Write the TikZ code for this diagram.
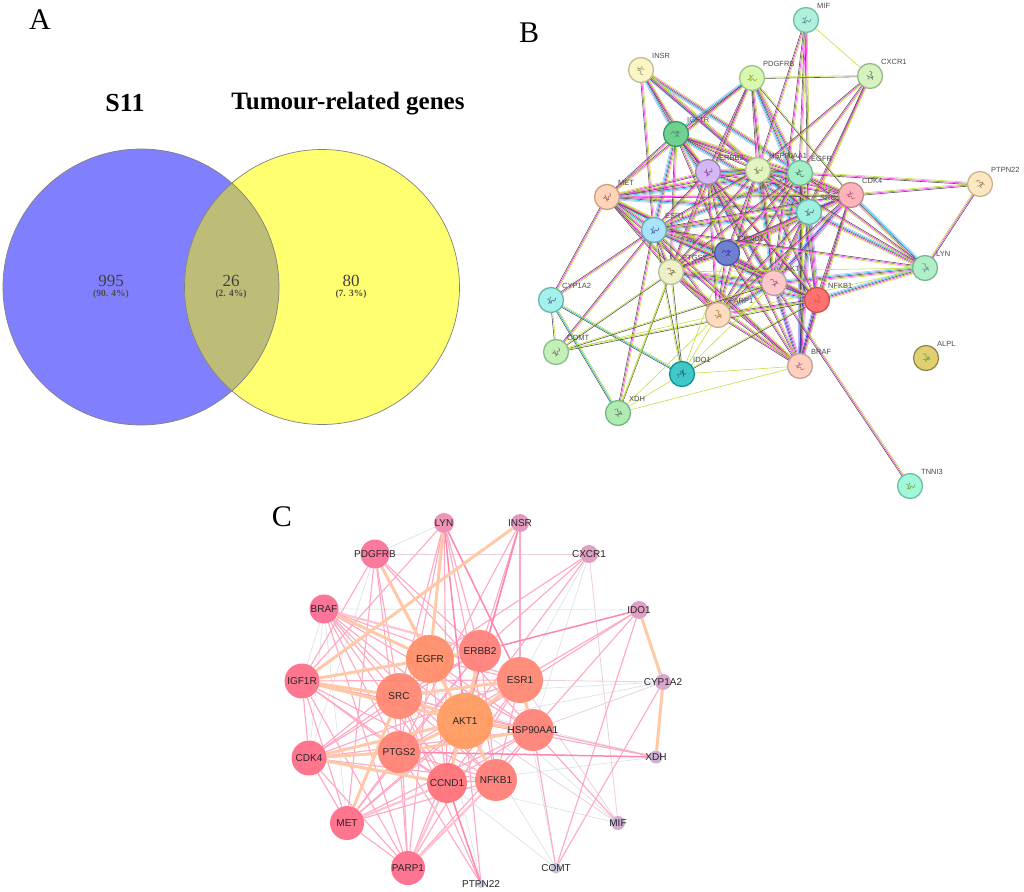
\documentclass[tikz,border=0pt]{standalone}
\usepackage{fontspec}
\setmainfont{Liberation Serif}
\setsansfont{Liberation Sans}
\usetikzlibrary{calc,backgrounds}
\definecolor{strlav}{HTML}{B4B4FF}
\definecolor{strcyan}{HTML}{20C8E0}
\definecolor{strgrey}{HTML}{555555}
\definecolor{strmag}{HTML}{FF40F0}
\definecolor{strlime}{HTML}{C4E040}
\definecolor{strblue}{HTML}{4030E0}
\definecolor{edgeorange}{HTML}{FFC9A8}
\definecolor{edgepink}{HTML}{FFA8C2}
\definecolor{edgerose}{HTML}{FF86AC}
\definecolor{edgelilac}{HTML}{EBCFE0}
\definecolor{edgepale}{HTML}{DCE3EF}
\definecolor{edgewash}{HTML}{FFC4D2}
\definecolor{vennblue}{HTML}{8080FF}
\definecolor{vennyellow}{HTML}{FFFF70}
\definecolor{vennboth}{HTML}{BDBD78}
\tikzset{
    panelmark/.style={font=\fontsize{30}{30}\selectfont,inner sep=0pt},
    venntitle/.style={font=\fontsize{26}{26}\selectfont\bfseries,inner sep=0pt},
    venncount/.style={font=\fontsize{17}{17}\selectfont,text=black!75,inner sep=0pt},
    vennshare/.style={font=\fontsize{9.5}{9.5}\selectfont\bfseries,text=black!70,inner sep=0pt},
    vennline/.style={draw=black!50,line width=0.7pt},
    stringnode/.style={circle,inner sep=0pt,minimum size=25pt,line width=1.3pt},
    stringlabel/.style={font=\sffamily\fontsize{7.5}{7.5}\selectfont,text=black!70,anchor=west,inner sep=0pt},
    glyph/.style={line width=0.6pt,line cap=round},
    strand/.style={line width=0.6pt},
    geneball/.style={circle,inner sep=0pt,fill opacity=0.92},
    genelabel/.style={font=\sffamily\fontsize{10}{10}\selectfont,text=black!85,inner sep=0pt},
    edgecore/.style={draw=edgeorange,line width=3pt},
    edgewide/.style={draw=edgewash,line width=2.2pt},
    edgestrong/.style={draw=edgerose,line width=1.5pt},
    edgethin/.style={draw=edgepink,line width=1.1pt},
    edgesoft/.style={draw=edgelilac,line width=0.8pt},
    edgefaint/.style={draw=edgepale,line width=0.7pt}
}
\newcommand{\strands}[3]{\foreach \off/\col in #3
    {\draw[strand,\col] ($(#1)!\off pt!90:(#2)$) -- ($(#2)!\off pt!-90:(#1)$);}}
\newcommand{\fullset}{-2.2/strlav,-1.1/strcyan,0/strgrey,1.1/strmag,2.2/strlime}
\newcommand{\midset}{-1.1/strgrey,0/strmag,1.1/strlime}
\newcommand{\pairset}{-0.6/strgrey,0.6/strlime}
\newcommand{\tealset}{-1.1/strgrey,0/strcyan,1.1/strlime}
\newcommand{\limeset}{0/strlime}
\newcommand{\blueset}{-2.2/strlav,-1.1/strblue,0/strgrey,1.1/strmag,2.2/strlav}
\begin{document}
\begin{tikzpicture}[x=1pt,y=-1pt]
    \useasboundingbox (0,0) rectangle (1024,891);
    \begin{pgfonlayer}{background}
        \fill[white] (0,0) rectangle (1024,891);
    \end{pgfonlayer}

    \node[panelmark] (markA) at (40,20) {A};
    \node[panelmark] (markB) at (529,33) {B};
    \node[panelmark] (markC) at (282,517) {C};

    \fill[vennblue] (141,287) circle (138);
    \fill[vennyellow] (322,287) circle (137.5);
    \begin{scope}
        \clip (141,287) circle (138);
        \fill[vennboth] (322,287) circle (137.5);
    \end{scope}
    \draw[vennline] (141,287) circle (138);
    \draw[vennline] (322,287) circle (137.5);
    \node[venntitle] (titleS) at (125,103) {S11};
    \node[venntitle,font=\fontsize{25}{25}\selectfont\bfseries] (titleT) at (348,104) {Tumour-related genes};
    \node[venncount] (countS) at (111,281) {995};
    \node[vennshare] (shareS) at (111,294) {(90. 4\%)};
    \node[venncount] (countB) at (231,281) {26};
    \node[vennshare] (shareB) at (231,294) {(2. 4\%)};
    \node[venncount] (countT) at (351,281) {80};
    \node[vennshare] (shareT) at (351,294) {(7. 3\%)};

    \foreach \n/\x/\y/\fc/\dc/\gc in {
        MIF/806/20/AEF0DC/6DBFA6/5A8A9A,
        INSR/641/70/FBF5C8/C2BC8E/A09870,
        PDGFRB/752/78/D8F8B0/9CC48A/90B030,
        CXCR1/870/76/D6F2C0/94B888/708060,
        IGF1R/676/134/6FD08F/2E9E60/3E9070,
        ERBB2/708/172/D4B8F4/9A86B8/A040A0,
        HSP90AA1/758/170/E2F4C0/B0BC96/807850,
        EGFR/800/173/A4EEC8/70B898/508070,
        CDK4/851/195/FFB4BC/C08890/B06080,
        PTPN22/980/184/FCE8C0/C8B490/A08060,
        MET/607/197/FFD4B8/C8A080/A07060,
        SRC/809/212/A0F0E0/68B8A8/507080,
        ESR1/654/230/A8E4FC/70A8C0/5060A0,
        CCND1/727/253/7080D0/4858A0/4040A0,
        PTGS2/671/272/EEF0C8/B8BCA0/907060,
        AKT1/774/283/FFC8C8/C09CA0/A06090,
        NFKB1/817/300/FF7070/D05050/E06040,
        LYN/925/268/B0EEC8/70B890/709090,
        CYP1A2/551/300/A4F0EC/68B4B0/507090,
        PARP1/718/315/FFDCC0/C8B098/A08040,
        COMT/556/352/C4F0B8/88BC88/708070,
        IDO1/682/374/40C8C8/109090/206080,
        BRAF/800/366/FFD0C0/C0A098/B07090,
        ALPL/926/358/E0D070/908850/60A040,
        XDH/618/413/B0ECB0/70B880/608070,
        TNNI3/910/486/A0F8D8/68C0A0/80A040}
    {
        \definecolor{nodefill}{HTML}{\fc}
        \definecolor{nodeline}{HTML}{\dc}
        \definecolor{nodeglyph}{HTML}{\gc}
        \node[stringnode,fill=nodefill,draw=nodeline] (s\n) at (\x,\y) {};
        \begin{scope}[shift={(\x,\y)},rotate=\x*7]
            \draw[glyph,nodeglyph] (-3,-4) .. controls (5,-5) and (-5,0) .. (3,-1) .. controls (5,2) and (-3,1) .. (0,4);
            \draw[glyph,nodeglyph] (-3,1) .. controls (-1,3) and (3,-2) .. (4,2);
        \end{scope}
        \node[stringlabel] (t\n) at ([shift={(11,-14)}]s\n.center) {\n};
    }

    \begin{pgfonlayer}{background}
        \foreach \a/\b in {INSR/IGF1R,INSR/EGFR,INSR/SRC,PDGFRB/EGFR,PDGFRB/SRC,PDGFRB/IGF1R,IGF1R/ESR1,IGF1R/SRC,
            IGF1R/AKT1,MET/SRC,MET/EGFR,MET/AKT1,MET/ESR1,ERBB2/AKT1,ERBB2/SRC,ERBB2/EGFR,ERBB2/HSP90AA1,EGFR/SRC,
            EGFR/AKT1,ESR1/AKT1,ESR1/SRC,ESR1/EGFR,ESR1/CCND1,CCND1/AKT1,CDK4/CCND1,SRC/AKT1,EGFR/BRAF,AKT1/NFKB1,
            LYN/SRC,LYN/CDK4,LYN/AKT1,LYN/NFKB1,HSP90AA1/AKT1,HSP90AA1/SRC,HSP90AA1/EGFR,PTGS2/AKT1,PTGS2/NFKB1,PARP1/AKT1}
        {\strands{s\a}{s\b}{\fullset}}
        \foreach \a/\b in {SRC/NFKB1,SRC/BRAF,AKT1/BRAF,NFKB1/BRAF,CDK4/AKT1,CDK4/SRC}
        {\strands{s\a}{s\b}{\blueset}}
        \foreach \a/\b in {MIF/EGFR,MIF/SRC,MIF/HSP90AA1,MIF/AKT1,INSR/ESR1,INSR/AKT1,INSR/HSP90AA1,PDGFRB/MET,PDGFRB/ERBB2,PDGFRB/HSP90AA1,
            PDGFRB/AKT1,PDGFRB/PTGS2,CXCR1/EGFR,CXCR1/SRC,CXCR1/AKT1,CXCR1/HSP90AA1,IGF1R/MET,IGF1R/ERBB2,IGF1R/HSP90AA1,IGF1R/EGFR,
            IGF1R/PTGS2,IGF1R/CCND1,IGF1R/CDK4,IGF1R/NFKB1}
        {\strands{s\a}{s\b}{\midset}}
        \foreach \a/\b in {MET/ERBB2,MET/HSP90AA1,MET/CDK4,MET/CCND1,MET/PTGS2,MET/NFKB1,MET/PARP1,MET/CYP1A2,MET/BRAF,ERBB2/ESR1,
            ERBB2/CCND1,ERBB2/CDK4,ERBB2/PTGS2,ERBB2/NFKB1,ERBB2/PARP1,ERBB2/BRAF,HSP90AA1/ESR1,HSP90AA1/CDK4,HSP90AA1/CCND1,
            HSP90AA1/PTGS2,HSP90AA1/NFKB1,HSP90AA1/PARP1,EGFR/CDK4,EGFR/CCND1,EGFR/PTGS2,EGFR/NFKB1,EGFR/PARP1,EGFR/PTPN22,
            CDK4/ESR1,CDK4/PTGS2,CDK4/NFKB1,CDK4/PARP1,CDK4/BRAF,SRC/CCND1,SRC/PTGS2,SRC/PARP1,ESR1/PTGS2,ESR1/NFKB1,ESR1/PARP1,
            ESR1/BRAF,CCND1/PTGS2,CCND1/NFKB1,CCND1/PARP1,CCND1/BRAF,PTGS2/PARP1,PTGS2/BRAF,NFKB1/PARP1,PARP1/BRAF,AKT1/TNNI3,
            ESR1/COMT,ESR1/XDH,ESR1/CYP1A2,LYN/EGFR,LYN/ESR1,LYN/HSP90AA1,LYN/PTPN22,CDK4/PTPN22}
        {\strands{s\a}{s\b}{\midset}}
        \foreach \a/\b in {CYP1A2/IDO1,CYP1A2/XDH}
        {\strands{s\a}{s\b}{\tealset}}
        \foreach \a/\b in {CYP1A2/COMT,COMT/PTGS2,COMT/AKT1,COMT/NFKB1,XDH/PTGS2,IDO1/PTGS2,IDO1/NFKB1,IDO1/ESR1,PDGFRB/CXCR1,PDGFRB/CDK4}
        {\strands{s\a}{s\b}{\pairset}}
        \foreach \a/\b in {MIF/CXCR1,IDO1/BRAF,IDO1/XDH,IDO1/PARP1,PARP1/XDH,IDO1/AKT1,PTGS2/LYN,COMT/PARP1,
            PTGS2/XDH,IDO1/CCND1,BRAF/XDH,PARP1/LYN}
        {\strands{s\a}{s\b}{\limeset}}
    \end{pgfonlayer}

    \foreach \n/\x/\y/\r/\fc in {
        LYN/444/523/10/EE8AB4,
        INSR/520/523/9/E091BB,
        PDGFRB/375/554/14.5/FB6D96,
        CXCR1/589/554/9/DD98C0,
        BRAF/324/609/14.5/FB6A90,
        IDO1/639/610/9/E296C0,
        EGFR/430/659/24/FF8C66,
        ERBB2/480/651/21/FF8078,
        ESR1/520/680/23/FF8670,
        IGF1R/302/681/17.5/FF6B86,
        CYP1A2/663/682/8/D6A0C8,
        SRC/399/696/23/FF8570,
        AKT1/465/721/28/FF9A5C,
        HSP90AA1/533/730/21/FF8075,
        PTGS2/399/752/21/FF7F72,
        CDK4/309/758/17.5/FF6A85,
        XDH/656/757/6.5/C9A9D0,
        CCND1/447/783/20/FF7078,
        NFKB1/496/780/21/FF7C74,
        MET/347/823/17/FF6A84,
        MIF/618/823/7/C9A8D0,
        PARP1/408/868/17/FF6A88,
        COMT/556/868/5.5/C5BCD8,
        PTPN22/481/884/4/C0C8E0}
    {
        \definecolor{ballfill}{HTML}{\fc}
        \node[geneball,fill=ballfill,minimum size=2*\r pt] (c\n) at (\x,\y) {};
    }
    \foreach \n in {LYN,INSR,PDGFRB,CXCR1,BRAF,IDO1,EGFR,ERBB2,ESR1,IGF1R,CYP1A2,SRC,AKT1,HSP90AA1,PTGS2,CDK4,XDH,CCND1,NFKB1,MET,MIF,PARP1,COMT,PTPN22}
    \node[genelabel] (g\n) at (c\n) {\n};

    \begin{pgfonlayer}{background}
        \foreach \a/\b in {BRAF/IDO1,CXCR1/HSP90AA1,CYP1A2/AKT1,CYP1A2/SRC,XDH/CCND1,PDGFRB/CDK4,BRAF/CDK4,PTPN22/EGFR,COMT/CCND1,
            MIF/EGFR,MIF/CCND1,CDK4/MET,COMT/ESR1,XDH/SRC,CXCR1/ESR1,LYN/PDGFRB,IGF1R/BRAF,MET/BRAF,COMT/AKT1}
        \draw[edgefaint] (c\a) -- (c\b);
        \foreach \a/\b in {PDGFRB/CXCR1,ESR1/CYP1A2,CXCR1/MIF,ESR1/MIF,HSP90AA1/CYP1A2,AKT1/MIF}
        \draw[edgesoft] (c\a) -- (c\b);
        \foreach \a/\b in {LYN/CCND1,LYN/SRC,LYN/ERBB2,LYN/NFKB1,LYN/PTGS2,LYN/IGF1R,INSR/ERBB2,INSR/ESR1,INSR/PTGS2,INSR/CCND1,PDGFRB/IGF1R,PDGFRB/ERBB2,
            PDGFRB/AKT1,PDGFRB/SRC,PDGFRB/HSP90AA1,PDGFRB/PTGS2,PDGFRB/MET,BRAF/AKT1,BRAF/ERBB2,BRAF/ESR1,BRAF/HSP90AA1,BRAF/PTGS2,BRAF/NFKB1,BRAF/CCND1,
            BRAF/PARP1,BRAF/SRC,CXCR1/EGFR,CXCR1/ERBB2,CXCR1/AKT1,IDO1/ESR1,IDO1/AKT1,IDO1/HSP90AA1,IDO1/COMT,CYP1A2/COMT,XDH/AKT1,XDH/HSP90AA1,
            HSP90AA1/COMT,HSP90AA1/MIF,PTPN22/PTGS2,PTPN22/AKT1,PTPN22/SRC,MET/AKT1,MET/ERBB2,MET/ESR1,MET/HSP90AA1,MET/NFKB1,MET/CCND1,MET/PARP1,MET/PTGS2,
            MET/CDK4,PARP1/AKT1,PARP1/PTGS2,PARP1/HSP90AA1,PARP1/ESR1,PARP1/EGFR,PARP1/SRC,PARP1/CDK4,PARP1/IGF1R,IGF1R/CDK4,IGF1R/MET,IGF1R/PTGS2,
            IGF1R/CCND1,IGF1R/NFKB1,IGF1R/ESR1,IGF1R/ERBB2,IGF1R/HSP90AA1,CDK4/AKT1,CDK4/SRC,CDK4/EGFR,CDK4/ERBB2,CDK4/ESR1,CDK4/HSP90AA1,CDK4/NFKB1,
            EGFR/ESR1,EGFR/HSP90AA1,EGFR/NFKB1,EGFR/CCND1,ERBB2/SRC,ERBB2/PTGS2,ERBB2/CCND1,ERBB2/NFKB1,ESR1/SRC,ESR1/PTGS2,ESR1/CCND1,ESR1/NFKB1,
            SRC/HSP90AA1,SRC/CCND1,SRC/NFKB1,PTGS2/HSP90AA1,PTGS2/CCND1,PTGS2/NFKB1,CCND1/HSP90AA1,CCND1/NFKB1,NFKB1/HSP90AA1}
        \draw[edgethin] (c\a) -- (c\b);
        \foreach \a/\b in {NFKB1/PARP1,CCND1/PARP1,CCND1/MET,ERBB2/BRAF}
        \draw[edgewide] (c\a) -- (c\b);
        \foreach \a/\b in {INSR/AKT1,IDO1/ERBB2,XDH/PTGS2,PTPN22/CCND1,LYN/AKT1,LYN/ESR1}
        \draw[edgestrong] (c\a) -- (c\b);
        \foreach \a/\b in {INSR/IGF1R,IDO1/CYP1A2,CYP1A2/XDH,LYN/EGFR,PDGFRB/EGFR,IGF1R/EGFR,IGF1R/SRC,IGF1R/AKT1,MET/SRC,CDK4/PTGS2,CDK4/CCND1,BRAF/EGFR,
            SRC/AKT1,EGFR/AKT1,ESR1/AKT1,HSP90AA1/AKT1,ESR1/HSP90AA1,PTGS2/AKT1,ERBB2/AKT1,EGFR/SRC,EGFR/ERBB2,AKT1/CCND1,AKT1/NFKB1,CDK4/AKT1,SRC/ESR1,PTGS2/HSP90AA1}
        \draw[edgecore] (c\a) -- (c\b);
    \end{pgfonlayer}
\end{tikzpicture}
\end{document}
